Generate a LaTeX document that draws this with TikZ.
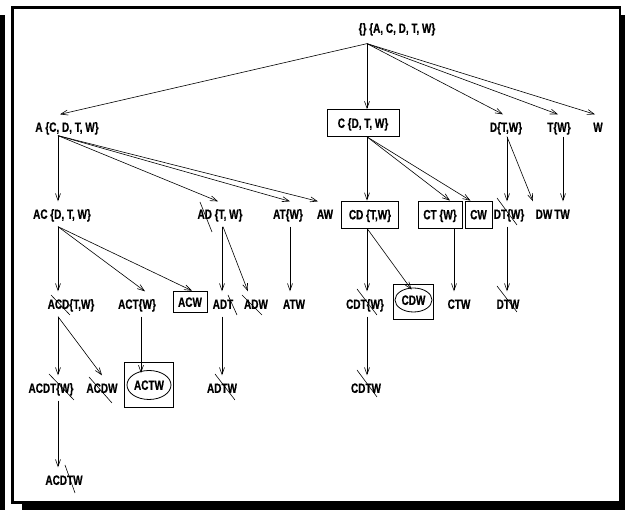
\documentclass[tikz,border=0pt]{standalone}
\usepackage{fontspec}
\newfontfamily\lab{Liberation Sans}[FakeStretch=0.74,FakeBold=0.6]
\usetikzlibrary{arrows.meta,shapes.geometric}
\begin{document}
\begin{tikzpicture}[x=1pt,y=-1pt,
  lbl/.style={font=\lab\bfseries\fontsize{13.5}{14}\selectfont, text height=9.7pt, text depth=0pt, inner xsep=1pt, inner ysep=7.6pt},
  boxed/.style={lbl, draw, line width=0.8pt, inner ysep=8.6pt},
  ell/.style={lbl, draw, ellipse, inner sep=0pt, line width=0.8pt},
  frm/.style={draw, line width=0.8pt, inner sep=0pt},
  arr/.style={-{Straight Barb[length=7pt,width=5pt]}, line width=0.6pt},
  cross/.style={line width=0.6pt}]
\useasboundingbox (0,0) rectangle (625,510);
% frame with shadow
\fill (0,15) rectangle (5,510);
\fill (619,15) rectangle (625,510);
\fill (22,503) rectangle (625,510);
\draw[line width=2.5pt] (12.5,7.5) rectangle (620,502.5);

% level 0
\node[lbl] (root) at (397,28) {\{\} \{A, C, D, T, W\}};
% level 1
\node[lbl] (A) at (67,127) {A \{C, D, T, W\}};
\node[boxed, minimum width=72pt] (C) at (363,123) {C \{D, T, W\}};
\node[lbl] (D) at (506,127) {D\{T,W\}};
\node[lbl] (T) at (559,127) {T\{W\}};
\node[lbl] (W) at (598,127) {W};
% level 2
\node[lbl] (AC) at (62,214) {AC \{D, T, W\}};
\node[lbl] (AD) at (220,214) {AD \{T, W\}};
\node[lbl] (AT) at (288,214) {AT\{W\}};
\node[lbl] (AW) at (325,214) {AW};
\node[boxed, minimum width=57pt] (CD) at (370,214.5) {CD \{T,W\}};
\node[boxed, minimum width=44pt] (CT) at (440,214.5) {CT \{W\}};
\node[boxed, minimum width=27pt] (CW) at (478.5,214.5) {CW};
\node[lbl] (DT) at (509,214) {DT\{W\}};
\node[lbl] (DW) at (544,214) {DW};
\node[lbl] (TW) at (562,214) {TW};
% level 3
\node[lbl] (ACD) at (71,304) {ACD\{T,W\}};
\node[lbl] (ACT) at (137,304) {ACT\{W\}};
\node[boxed, minimum width=34pt, inner ysep=6pt] (ACW) at (190,302) {ACW};
\node[lbl] (ADT) at (223,304) {ADT};
\node[lbl] (ADW) at (256,304) {ADW};
\node[lbl] (ATW) at (294,304) {ATW};
\node[lbl] (CDT) at (365,304) {CDT\{W\}};
\node[frm, minimum width=40pt, minimum height=35pt] (CDWb) at (413,301.5) {};
\node[ell, minimum width=37pt, minimum height=24pt] (CDW) at (413.5,300) {CDW};
\node[lbl] (CTW) at (459,304) {CTW};
\node[lbl] (DTW) at (508,304) {DTW};
% level 4
\node[lbl] (ACDT) at (51,388) {ACDT\{W\}};
\node[lbl] (ACDW) at (102,388) {ACDW};
\node[frm, minimum width=49pt, minimum height=45pt] (ACTWb) at (148.5,384.5) {};
\node[ell, minimum width=44pt, minimum height=29pt] (ACTW) at (149,385) {ACTW};
\node[lbl] (ADTW) at (222,388) {ADTW};
\node[lbl] (CDTW) at (366,388) {CDTW};
% level 5
\node[lbl] (ACDTW) at (64,480) {ACDTW};

% connectors
\coordinate (r) at ([xshift=-30pt,yshift=-3pt]root.south);
\draw[arr] (r) -- ([xshift=-7pt]A.north);
\draw[arr] (r) -- ([xshift=4pt]C.north);
\draw[arr] (r) -- ([xshift=-3pt]D.north);
\draw[arr] (r) -- ([xshift=-1pt]T.north);
\draw[arr] (r) -- ([xshift=-3pt]W.north);

\draw[arr] ([xshift=-9pt,yshift=4pt]A.south) -- ([xshift=-4pt]AC.north);
\draw[arr] ([xshift=-9pt,yshift=4pt]A.south) -- ([xshift=-2pt]AD.north);
\draw[arr] ([xshift=-9pt,yshift=4pt]A.south) -- ([xshift=2pt]AT.north);
\draw[arr] ([xshift=-9pt,yshift=4pt]A.south) -- ([xshift=-7pt]AW.north);

\draw[arr] ([xshift=4pt]C.south) -- ([xshift=-3pt]CD.north);
\draw[arr] ([xshift=4pt]C.south) -- ([xshift=10pt]CT.north);
\draw[arr] ([xshift=4pt]C.south) -- ([xshift=-8pt]CW.north);

\draw[arr] ([xshift=1pt,yshift=3pt]D.south) -- ([xshift=-2pt]DT.north);
\draw[arr] ([xshift=1pt,yshift=3pt]D.south) -- ([xshift=-11pt]DW.north);
\draw[arr] ([xshift=4pt,yshift=3pt]T.south) -- ([xshift=1pt]TW.north);

\draw[arr] ([xshift=-4pt]AC.south) -- ([xshift=-13pt]ACD.north);
\draw[arr] ([xshift=-4pt]AC.south) -- ([xshift=8pt]ACT.north);
\draw[arr] ([xshift=-4pt]AC.south) -- ([xshift=2pt]ACW.north);

\draw[arr] ([xshift=2pt]AD.south) -- ([xshift=-1pt]ADT.north);
\draw[arr] ([xshift=3pt]AD.south) -- ([xshift=-8pt]ADW.north);
\draw[arr] ([xshift=2pt]AT.south) -- ([xshift=-4pt]ATW.north);

\draw[arr] ([xshift=-3pt]CD.south) -- ([xshift=2pt]CDT.north);
\draw[arr] ([xshift=-3pt]CD.south) -- ([xshift=-2pt,yshift=-2pt]CDW.north);
\draw[arr] ([xshift=14pt]CT.south) -- ([xshift=-5pt]CTW.north);
\draw[arr] ([xshift=-2pt]DT.south) -- ([xshift=-1pt]DTW.north);

\draw[arr] ([xshift=-13pt]ACD.south) -- ([xshift=7pt]ACDT.north);
\draw[arr] ([xshift=-13pt]ACD.south) -- (ACDW.north);
\draw[arr] ([xshift=4pt]ACT.south) -- ([xshift=-8pt,yshift=-3pt]ACTW.north);
\draw[arr] ([xshift=-1pt]ADT.south) -- (ADTW.north);
\draw[arr] ([xshift=2pt]CDT.south) -- ([xshift=1pt]CDTW.north);

\draw[arr] ([xshift=7pt]ACDT.south) -- ([xshift=-6pt]ACDTW.north);

% crossing-out strokes
\draw[cross] (200,202) -- (212,232);
\draw[cross] (51,295) -- (70,315);
\draw[cross] (228,295) -- (237,315);
\draw[cross] (242,295) -- (262,315);
\draw[cross] (49,374) -- (74,400);
\draw[cross] (89,377) -- (112,403);
\draw[cross] (215,374) -- (235,400);
\draw[cross] (65,465) -- (75,493);
\draw[cross] (497,198) -- (517,225);
\draw[cross] (357,289) -- (377,315);
\draw[cross] (497,286) -- (517,312);
\draw[cross] (357,370) -- (377,397);
\end{tikzpicture}
\end{document}
